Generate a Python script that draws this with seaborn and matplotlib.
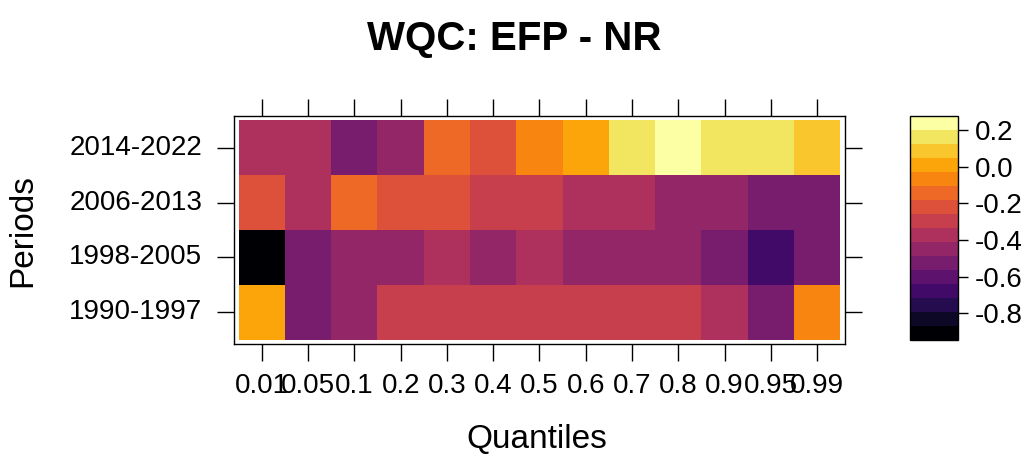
import numpy as np
import pandas as pd
import matplotlib
matplotlib.use("Agg")
import matplotlib.pyplot as plt
import seaborn as sns
from matplotlib.colors import ListedColormap, BoundaryNorm

quantiles = ['0.01', '0.05', '0.1', '0.2', '0.3', '0.4', '0.5', '0.6', '0.7', '0.8', '0.9', '0.95', '0.99']
periods = ['2014-2022', '2006-2013', '1998-2005', '1990-1997']

# values (one row per period, top to bottom)
p2014 = [-0.37, -0.37, -0.53, -0.45, -0.14, -0.22, -0.07, 0.01, 0.16, 0.27, 0.16, 0.16, 0.09]
p2006 = [-0.22, -0.37, -0.14, -0.22, -0.22, -0.30, -0.30, -0.37, -0.37, -0.45, -0.45, -0.53, -0.53]
p1998 = [-0.93, -0.53, -0.45, -0.45, -0.37, -0.45, -0.37, -0.45, -0.45, -0.45, -0.53, -0.68, -0.53]
p1990 = [0.01, -0.53, -0.45, -0.30, -0.30, -0.30, -0.30, -0.30, -0.30, -0.30, -0.37, -0.53, -0.07]

data = pd.DataFrame([p2014, p2006, p1998, p1990], index=periods, columns=quantiles)

plt.rcParams['font.family'] = ['Liberation Sans', 'DejaVu Sans']

# 16 discrete levels over the (slightly extended) data range, like lattice levelplot
zmin, zmax = -0.947, 0.277
bounds = np.linspace(zmin, zmax, 17)
cmap = ListedColormap(matplotlib.colormaps['inferno'](np.linspace(0, 1, 16)))
norm = BoundaryNorm(bounds, cmap.N)

fig = plt.figure(figsize=(10.35, 4.58), dpi=100)
ax = fig.add_axes([0.2261, 0.2489, 0.5903, 0.4978])
cax = fig.add_axes([0.879, 0.2576, 0.0464, 0.489])

sns.heatmap(data, ax=ax, cbar_ax=cax, cmap=cmap, norm=norm,
            cbar_kws={'ticks': [-0.8, -0.6, -0.4, -0.2, 0.0, 0.2]})

ax.set_xlim(-0.1, 13.1)
ax.set_ylim(4.08, -0.08)
for s in ax.spines.values():
    s.set_visible(True)
    s.set_color('black')
    s.set_linewidth(1.0)

ax.tick_params(top=True, right=True, labeltop=False, labelright=False,
               direction='out', length=12, width=1, colors='black', labelsize=20)
ax.tick_params(axis='x', pad=9)
ax.tick_params(axis='y', pad=11)
ax.set_xticklabels(quantiles, rotation=0)
ax.set_yticklabels(periods, rotation=0)

ax.set_xlabel('Quantiles', fontsize=24)
ax.set_ylabel('Periods', fontsize=24)
ax.xaxis.set_label_coords(0.495, -0.421)
ax.xaxis.label.set_va('center')
ax.yaxis.set_label_coords(-0.345, 0.5)
ax.yaxis.label.set_va('center')

cbar = ax.collections[0].colorbar
cbar.outline.set_edgecolor('black')
cbar.outline.set_linewidth(1.0)
cax.minorticks_off()
cax.tick_params(direction='out', length=7, width=1, labelsize=20, pad=5)
cax.set_yticklabels(['-0.8', '-0.6', '-0.4', '-0.2', '0.0', '0.2'])

fig.suptitle('WQC: EFP - NR', fontsize=29, fontweight='bold', x=0.497, y=0.915, va='center')

fig.savefig('out.png', dpi=100)
